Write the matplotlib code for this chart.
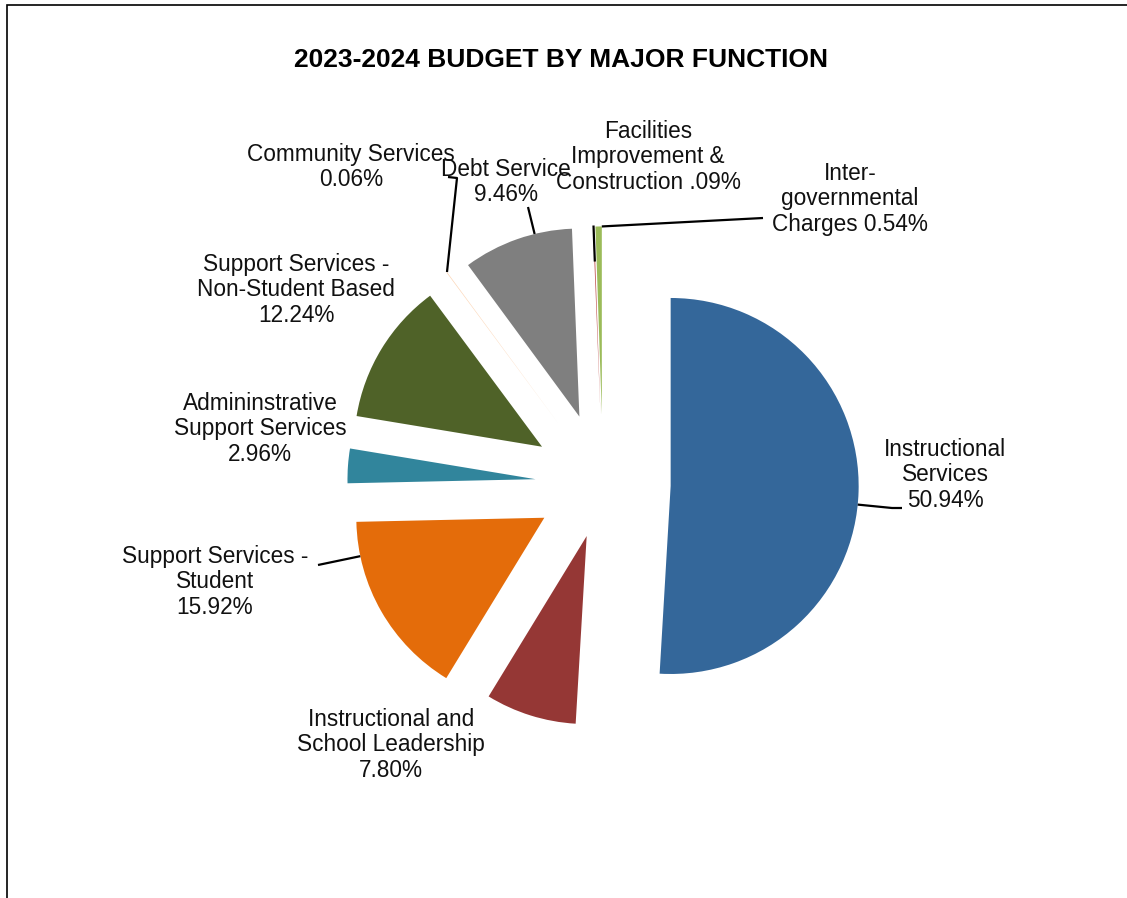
import numpy as np
import matplotlib
matplotlib.use("Agg")
from matplotlib import pyplot as plt
from matplotlib.patches import Rectangle

plt.rcParams["font.family"] = ["Liberation Sans", "DejaVu Sans"]

functions = ["Instructional Services", "Instructional and School Leadership",
             "Support Services - Student", "Admininstrative Support Services",
             "Support Services - Non-Student Based", "Community Services",
             "Debt Service", "Facilities Improvement & Construction",
             "Inter-governmental Charges"]
pct = [50.94, 7.80, 15.92, 2.96, 12.24, 0.06, 9.46, 0.09, 0.54]
pct_text = ["50.94%", "7.80%", "15.92%", "2.96%", "12.24%", "0.06%", "9.46%", ".09%", "0.54%"]
label_lines = [["Instructional", "Services"],
               ["Instructional and", "School Leadership"],
               ["Support Services -", "Student"],
               ["Admininstrative", "Support Services"],
               ["Support Services -", "Non-Student Based"],
               ["Community Services"],
               ["Debt Service"],
               ["Facilities", "Improvement &", "Construction"],
               ["Inter-", "governmental", "Charges"]]
colors = ["#34679a", "#953735", "#e46c0a", "#31859c", "#4f6228",
          "#fcd5b5", "#7f7f7f", "#c0504d", "#9bbb59"]
explode = [0.36, 0.29, 0.36, 0.36, 0.38, 0.40, 0.38, 0.37, 0.37]

W, H = 1127, 898
CX, CY, S = 603, 484, 188   # pie centre and radius in pixels


def px(x, y):
    return ((x - CX) / S, (CY - y) / S)


def arc_anchor(w, toward):
    cx, cy = w.center
    ang = np.degrees(np.arctan2(toward[1] - cy, toward[0] - cx))
    ang = w.theta1 + (ang - w.theta1) % 360
    if ang > w.theta2:
        ang = w.theta2 if ang - w.theta2 < w.theta1 + 360 - ang else w.theta1
    a = np.radians(ang)
    return (cx + w.r * np.cos(a), cy + w.r * np.sin(a))


fig = plt.figure(figsize=(W / 100, H / 100), dpi=100)
ax = fig.add_axes([0, 0, 1, 1])
wedges, _ = ax.pie(pct, colors=colors, explode=explode, startangle=90,
                   counterclock=False, radius=1, center=(0, 0),
                   wedgeprops=dict(linewidth=0))
ax.set_xlim(-CX / S, (W - CX) / S)
ax.set_ylim(-(H - CY) / S, CY / S)
ax.axis("off")

# label block centres (pixels)
label_pos = [(945, 475), (391, 745), (215, 582), (260, 429), (296, 290),
             (351, 167), (506, 182), (648, 157), (850, 199)]
for i, lines in enumerate(label_lines):
    if i in (7, 8):
        txt = "\n".join(lines[:-1] + [lines[-1] + " " + pct_text[i]])
    else:
        txt = "\n".join(lines + [pct_text[i]])
    ax.text(*px(*label_pos[i]), txt, ha="center", va="center",
            fontsize=16.3, linespacing=1.14, color="#111111")

# leader lines: fixed bends near the labels, end on the wedge arc
leaders = {0: [(902, 508), (892, 508)],
           2: [(318, 565)],
           5: [(448, 177), (457, 178)],
           6: [(528, 207)],
           8: [(763, 218)]}
for i, pts in leaders.items():
    xy = [px(*p) for p in pts]
    xy.append(arc_anchor(wedges[i], xy[-1]))
    xs, ys = zip(*xy)
    ax.plot(xs, ys, color="black", lw=1.6, solid_capstyle="butt")

# short tick over the facilities sliver
wf = wedges[7]
a = np.radians(0.5 * (wf.theta1 + wf.theta2))
ax.plot([wf.center[0] + np.cos(a), wf.center[0] + 0.82 * np.cos(a)],
        [wf.center[1] + np.sin(a), wf.center[1] + 0.82 * np.sin(a)],
        color="black", lw=1.6)

fig.text(561 / W, 1 - 60 / H, "2023-2024 BUDGET BY MAJOR FUNCTION",
         ha="center", va="center", fontsize=19, fontweight="bold")

fig.add_artist(Rectangle((7 / W, -0.05), 1.2, 1 - 5 / H + 0.05,
                         transform=fig.transFigure, fill=False,
                         edgecolor="black", lw=1.2))

plt.savefig("out.png", dpi=100)
